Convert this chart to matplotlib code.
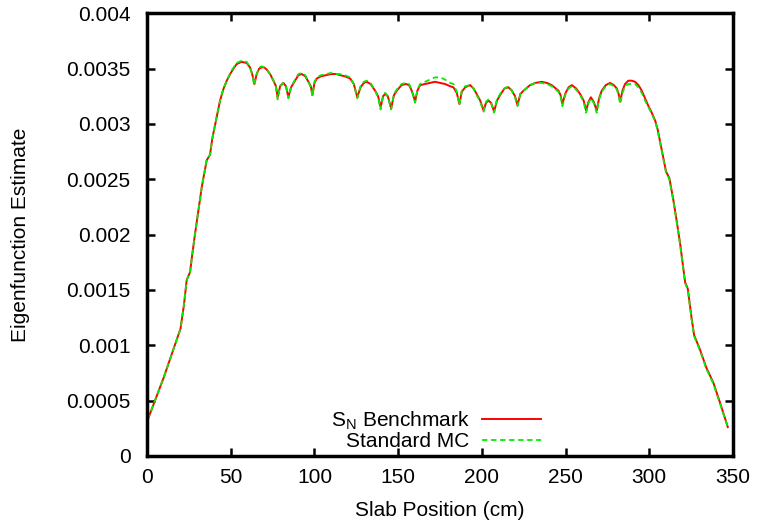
import matplotlib
matplotlib.use('Agg')
import matplotlib.pyplot as plt

# slab position (cm)
pos = [0.5, 5, 10, 15, 20, 22, 23.7, 25.7, 27, 28.7, 30.7, 32.7, 35.6, 37.6, 39,
       40.6, 43.6, 45.5, 47.6, 50, 53.5, 56.5, 59.5, 61.5, 62.8, 64.1, 65.5, 67,
       68.5, 70, 71.5, 73.5, 75.5, 77, 78, 79.5, 81.4, 83, 84.4, 86, 88.4, 90.4,
       92.4, 94.5, 96.4, 97.8, 98.8, 100, 101.4, 104, 107, 110, 113, 115.3, 118,
       121.3, 123.5, 125.6, 127.5, 129.5, 131.2, 133.5, 136.2, 138, 139.5, 141,
       142.2, 143.8, 145.8, 147.5, 149.2, 152, 154.7, 156.5, 158.1, 159.2, 160.1,
       161.5, 163.1, 166, 169, 172, 175, 178, 181, 183, 185, 186.6, 188, 190, 193,
       195, 196.9, 199, 201, 202.5, 203.9, 205.5, 207.3, 209, 210.9, 213.5, 215.9,
       217.9, 219.8, 221.3, 223, 224.9, 228.8, 232, 235.8, 238.8, 241.7, 245.7,
       247, 248.1, 250, 251.8, 253.7, 256.3, 258.7, 260.8, 262.3, 263.7, 265.1,
       266.8, 268.6, 270, 271.6, 274, 276.6, 278.8, 280.6, 281.7, 282.6, 284,
       285.5, 287.5, 289.5, 291.5, 293.5, 295.5, 297.5, 299.5, 301.5, 303.5, 305,
       307.5, 310, 312, 314.4, 316.4, 318.4, 321.4, 323, 325.4, 326.8, 330.3, 334,
       338.3, 342.5, 346.9]

# S_N benchmark (x 1e-3)
sn = [0.33, 0.51, 0.71, 0.93, 1.15, 1.36, 1.59, 1.66, 1.82, 2.01, 2.22, 2.43, 2.67,
      2.72, 2.87, 2.99, 3.21, 3.31, 3.39, 3.46, 3.54, 3.56, 3.55, 3.51, 3.45, 3.36,
      3.45, 3.50, 3.51, 3.51, 3.49, 3.45, 3.39, 3.34, 3.24, 3.34, 3.37, 3.34, 3.24,
      3.33, 3.39, 3.44, 3.45, 3.43, 3.38, 3.34, 3.26, 3.37, 3.41, 3.43, 3.44, 3.45,
      3.45, 3.44, 3.43, 3.41, 3.36, 3.24, 3.33, 3.37, 3.38, 3.36, 3.30, 3.25, 3.15,
      3.25, 3.27, 3.25, 3.14, 3.26, 3.30, 3.35, 3.36, 3.35, 3.30, 3.25, 3.20, 3.30,
      3.35, 3.36, 3.37, 3.38, 3.37, 3.36, 3.34, 3.33, 3.28, 3.18, 3.29, 3.33, 3.35,
      3.32, 3.27, 3.21, 3.12, 3.19, 3.21, 3.19, 3.11, 3.21, 3.26, 3.32, 3.33, 3.30,
      3.25, 3.17, 3.27, 3.30, 3.35, 3.37, 3.38, 3.37, 3.35, 3.30, 3.26, 3.18, 3.28,
      3.33, 3.35, 3.32, 3.27, 3.21, 3.12, 3.20, 3.24, 3.20, 3.12, 3.23, 3.30, 3.35,
      3.37, 3.35, 3.32, 3.27, 3.20, 3.30, 3.36, 3.39, 3.39, 3.38, 3.35, 3.30, 3.23,
      3.16, 3.10, 3.03, 2.95, 2.76, 2.57, 2.51, 2.31, 2.12, 1.92, 1.57, 1.51, 1.23,
      1.09, 0.96, 0.80, 0.66, 0.47, 0.26]

# standard MC (x 1e-3)
mc = [0.33, 0.51, 0.71, 0.93, 1.15, 1.36, 1.59, 1.66, 1.82, 2.01, 2.22, 2.43, 2.67,
      2.72, 2.87, 2.99, 3.21, 3.31, 3.39, 3.47, 3.55, 3.57, 3.56, 3.51, 3.45, 3.35,
      3.45, 3.51, 3.52, 3.51, 3.49, 3.45, 3.39, 3.33, 3.22, 3.34, 3.37, 3.34, 3.23,
      3.33, 3.40, 3.45, 3.46, 3.44, 3.38, 3.33, 3.25, 3.38, 3.42, 3.44, 3.45, 3.46,
      3.45, 3.45, 3.44, 3.42, 3.36, 3.23, 3.34, 3.38, 3.39, 3.37, 3.30, 3.24, 3.13,
      3.26, 3.28, 3.25, 3.13, 3.27, 3.31, 3.36, 3.37, 3.36, 3.30, 3.24, 3.19, 3.31,
      3.36, 3.38, 3.40, 3.42, 3.42, 3.40, 3.37, 3.36, 3.29, 3.17, 3.30, 3.34, 3.35,
      3.32, 3.26, 3.20, 3.11, 3.20, 3.22, 3.19, 3.10, 3.22, 3.27, 3.32, 3.34, 3.30,
      3.24, 3.16, 3.27, 3.30, 3.35, 3.37, 3.37, 3.36, 3.34, 3.29, 3.25, 3.16, 3.27,
      3.32, 3.34, 3.31, 3.26, 3.20, 3.10, 3.19, 3.23, 3.19, 3.10, 3.22, 3.29, 3.34,
      3.36, 3.34, 3.31, 3.26, 3.18, 3.28, 3.34, 3.36, 3.36, 3.36, 3.33, 3.28, 3.21,
      3.15, 3.09, 3.02, 2.94, 2.75, 2.56, 2.50, 2.30, 2.11, 1.91, 1.56, 1.50, 1.22,
      1.08, 0.95, 0.79, 0.65, 0.46, 0.26]

sn = [v * 1e-3 for v in sn]
mc = [v * 1e-3 for v in mc]

plt.rcParams['font.family'] = ['Liberation Sans', 'DejaVu Sans']
plt.rcParams['font.size'] = 15

fig = plt.figure(figsize=(7.58, 5.27), dpi=100)
ax = fig.add_axes([0.194, 0.135, 0.773, 0.84])

ax.plot(pos, sn, color='#ff0000', lw=1.4, label='S$_\\mathregular{N}$ Benchmark')
ax.plot(pos, mc, color='#00ee00', lw=1.3, ls=(0, (3, 2)), label='Standard MC')

ax.set_xlim(0, 350)
ax.set_ylim(0, 0.004)
ax.set_xticks(range(0, 351, 50))
ax.set_yticks([i * 0.0005 for i in range(9)])
ax.set_yticklabels(['0', '0.0005', '0.001', '0.0015', '0.002', '0.0025',
                    '0.003', '0.0035', '0.004'])
ax.tick_params(direction='in', length=6, width=1.8, top=True, right=True, pad=9)
ax.tick_params(axis='y', pad=12)
for s in ax.spines.values():
    s.set_linewidth(2.5)

ax.set_xlabel('Slab Position (cm)', labelpad=10)
ax.set_ylabel('Eigenfunction Estimate', labelpad=26)

ax.legend(loc='lower right', bbox_to_anchor=(0.698, -0.022), frameon=False,
          markerfirst=False, handlelength=2.85, labelspacing=0.0,
          handletextpad=0.6, borderpad=0.2)

fig.savefig('out.png', dpi=100)
